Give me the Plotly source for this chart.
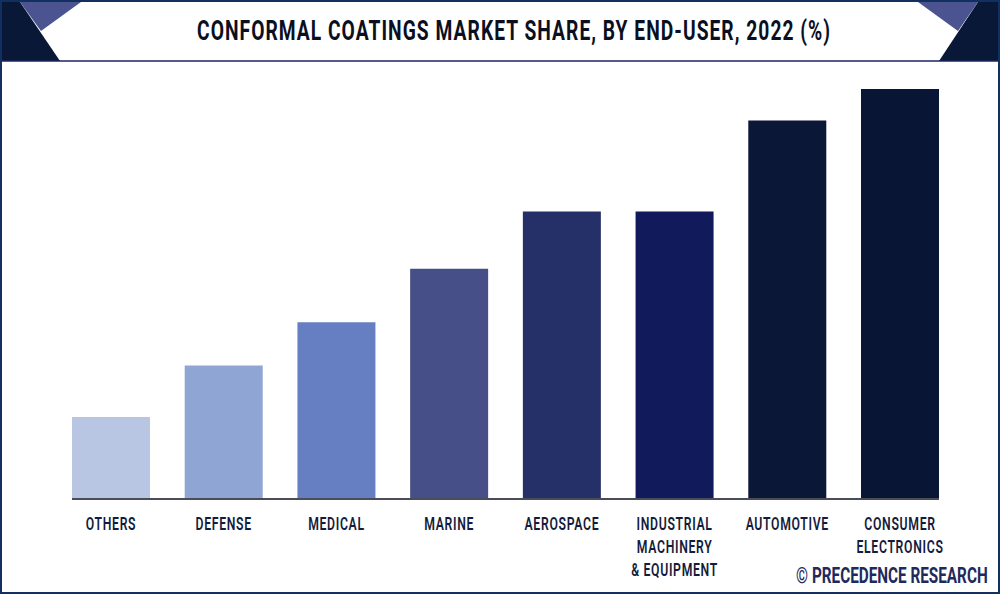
import plotly.graph_objects as go

W, H = 1000, 594

categories = ["OTHERS", "DEFENSE", "MEDICAL", "MARINE", "AEROSPACE",
              "INDUSTRIAL<br>MACHINERY<br>& EQUIPMENT", "AUTOMOTIVE",
              "CONSUMER<br>ELECTRONICS"]
# no value axis in the source, shares
shares = [4.1, 6.7, 8.9, 11.6, 14.5, 14.5, 19.1, 20.7]
colors = ["#b8c6e4", "#8fa5d3", "#667fc2", "#464f87",
          "#252f68", "#111b5c", "#0a1736", "#091535"]

NAVY = "#0a1838"
MID = "#4b5391"
FONT = "Roboto"

# margins of the plot area
L, R, T, B = 72, 61, 70, 96


def px(x, y):
    # pixel position on the page -> paper coords
    return (x - L) / (W - L - R), 1 - (y - T) / (H - T - B)


def poly(points, color):
    path = ""
    for i, (x, y) in enumerate(points):
        a, b = px(x, y)
        path += ("M" if i == 0 else "L") + f"{a:.5f},{b:.5f} "
    return dict(type="path", path=path + "Z", xref="paper", yref="paper",
                fillcolor=color, line_width=0, layer="below")


fig = go.Figure(go.Bar(x=categories, y=shares, width=0.692,
                       marker=dict(color=colors, line_width=0)))

x0, y0 = px(1, 1)
x1, y1 = px(999, 593)
hx0, hy1 = px(1, 61)
hx1, _ = px(999, 61)
shapes = [
    poly([(2, 2), (20, 2), (60, 61), (2, 61)], NAVY),
    poly([(20, 2), (81, 2), (41, 31)], MID),
    poly([(939, 61), (978, 2), (998, 2), (998, 61)], NAVY),
    poly([(918, 2), (978, 2), (958, 31)], MID),
    # header rule
    dict(type="line", xref="paper", yref="paper", x0=hx0, x1=hx1, y0=hy1, y1=hy1,
         line=dict(color="#1b2560", width=1.5)),
    # outer frame
    dict(type="rect", xref="paper", yref="paper", x0=x0, x1=x1, y0=y0, y1=y1,
         line=dict(color="#12305f", width=2)),
]

tx, ty = px(514, 31)
wx, wy = px(892, 575)
annotations = [
    dict(text="CONFORMAL COATINGS MARKET SHARE, BY END-USER, 2022 (%)",
         x=tx, y=ty, xref="paper", yref="paper", showarrow=False,
         xanchor="center", yanchor="middle",
         font=dict(family=FONT, size=28, weight=700, color="#0b0f1e")),
    dict(text="© PRECEDENCE RESEARCH",
         x=wx, y=wy, xref="paper", yref="paper", showarrow=False,
         xanchor="center", yanchor="middle",
         font=dict(family=FONT, size=22, weight=700, color="#1f2a5c")),
]

fig.update_layout(
    width=W, height=H,
    margin=dict(l=L, r=R, t=T, b=B, pad=0),
    paper_bgcolor="white", plot_bgcolor="white",
    showlegend=False,
    shapes=shapes,
    annotations=annotations,
    xaxis=dict(type="category", range=[-0.346, 7.346], showgrid=False,
               showline=True, linecolor="#4a4c58", linewidth=2,
               ticks="outside", ticklen=8, tickcolor="rgba(0,0,0,0)",
               tickangle=0,
               tickfont=dict(family=FONT, size=18, weight=600, color="#141c3c")),
    yaxis=dict(range=[0, 21.66], visible=False),
)

# no condensed font installed, so squeeze the text sideways around its centre
squeeze = """
document.body.style.margin = '0';
function squeeze(sel, k, spacing) {
  document.querySelectorAll(sel).forEach(function (t) {
    t.style.letterSpacing = spacing + 'px';
    var b = t.getBBox(), cx = b.x + b.width / 2;
    var old = t.getAttribute('transform') || '';
    t.setAttribute('transform', old + ' translate(' + cx + ',0) scale(' + k + ',1) translate(' + (-cx) + ',0)');
  });
}
var notes = document.querySelectorAll('.annotation-text');
notes[0].classList.add('head');
notes[1].classList.add('mark');
squeeze('.head', 0.687, 1.5);
squeeze('.mark', 0.695, 0);
squeeze('.xtick text', 0.68, 1);
"""

fig.write_html("out.html", post_script=squeeze, config=dict(displayModeBar=False))
